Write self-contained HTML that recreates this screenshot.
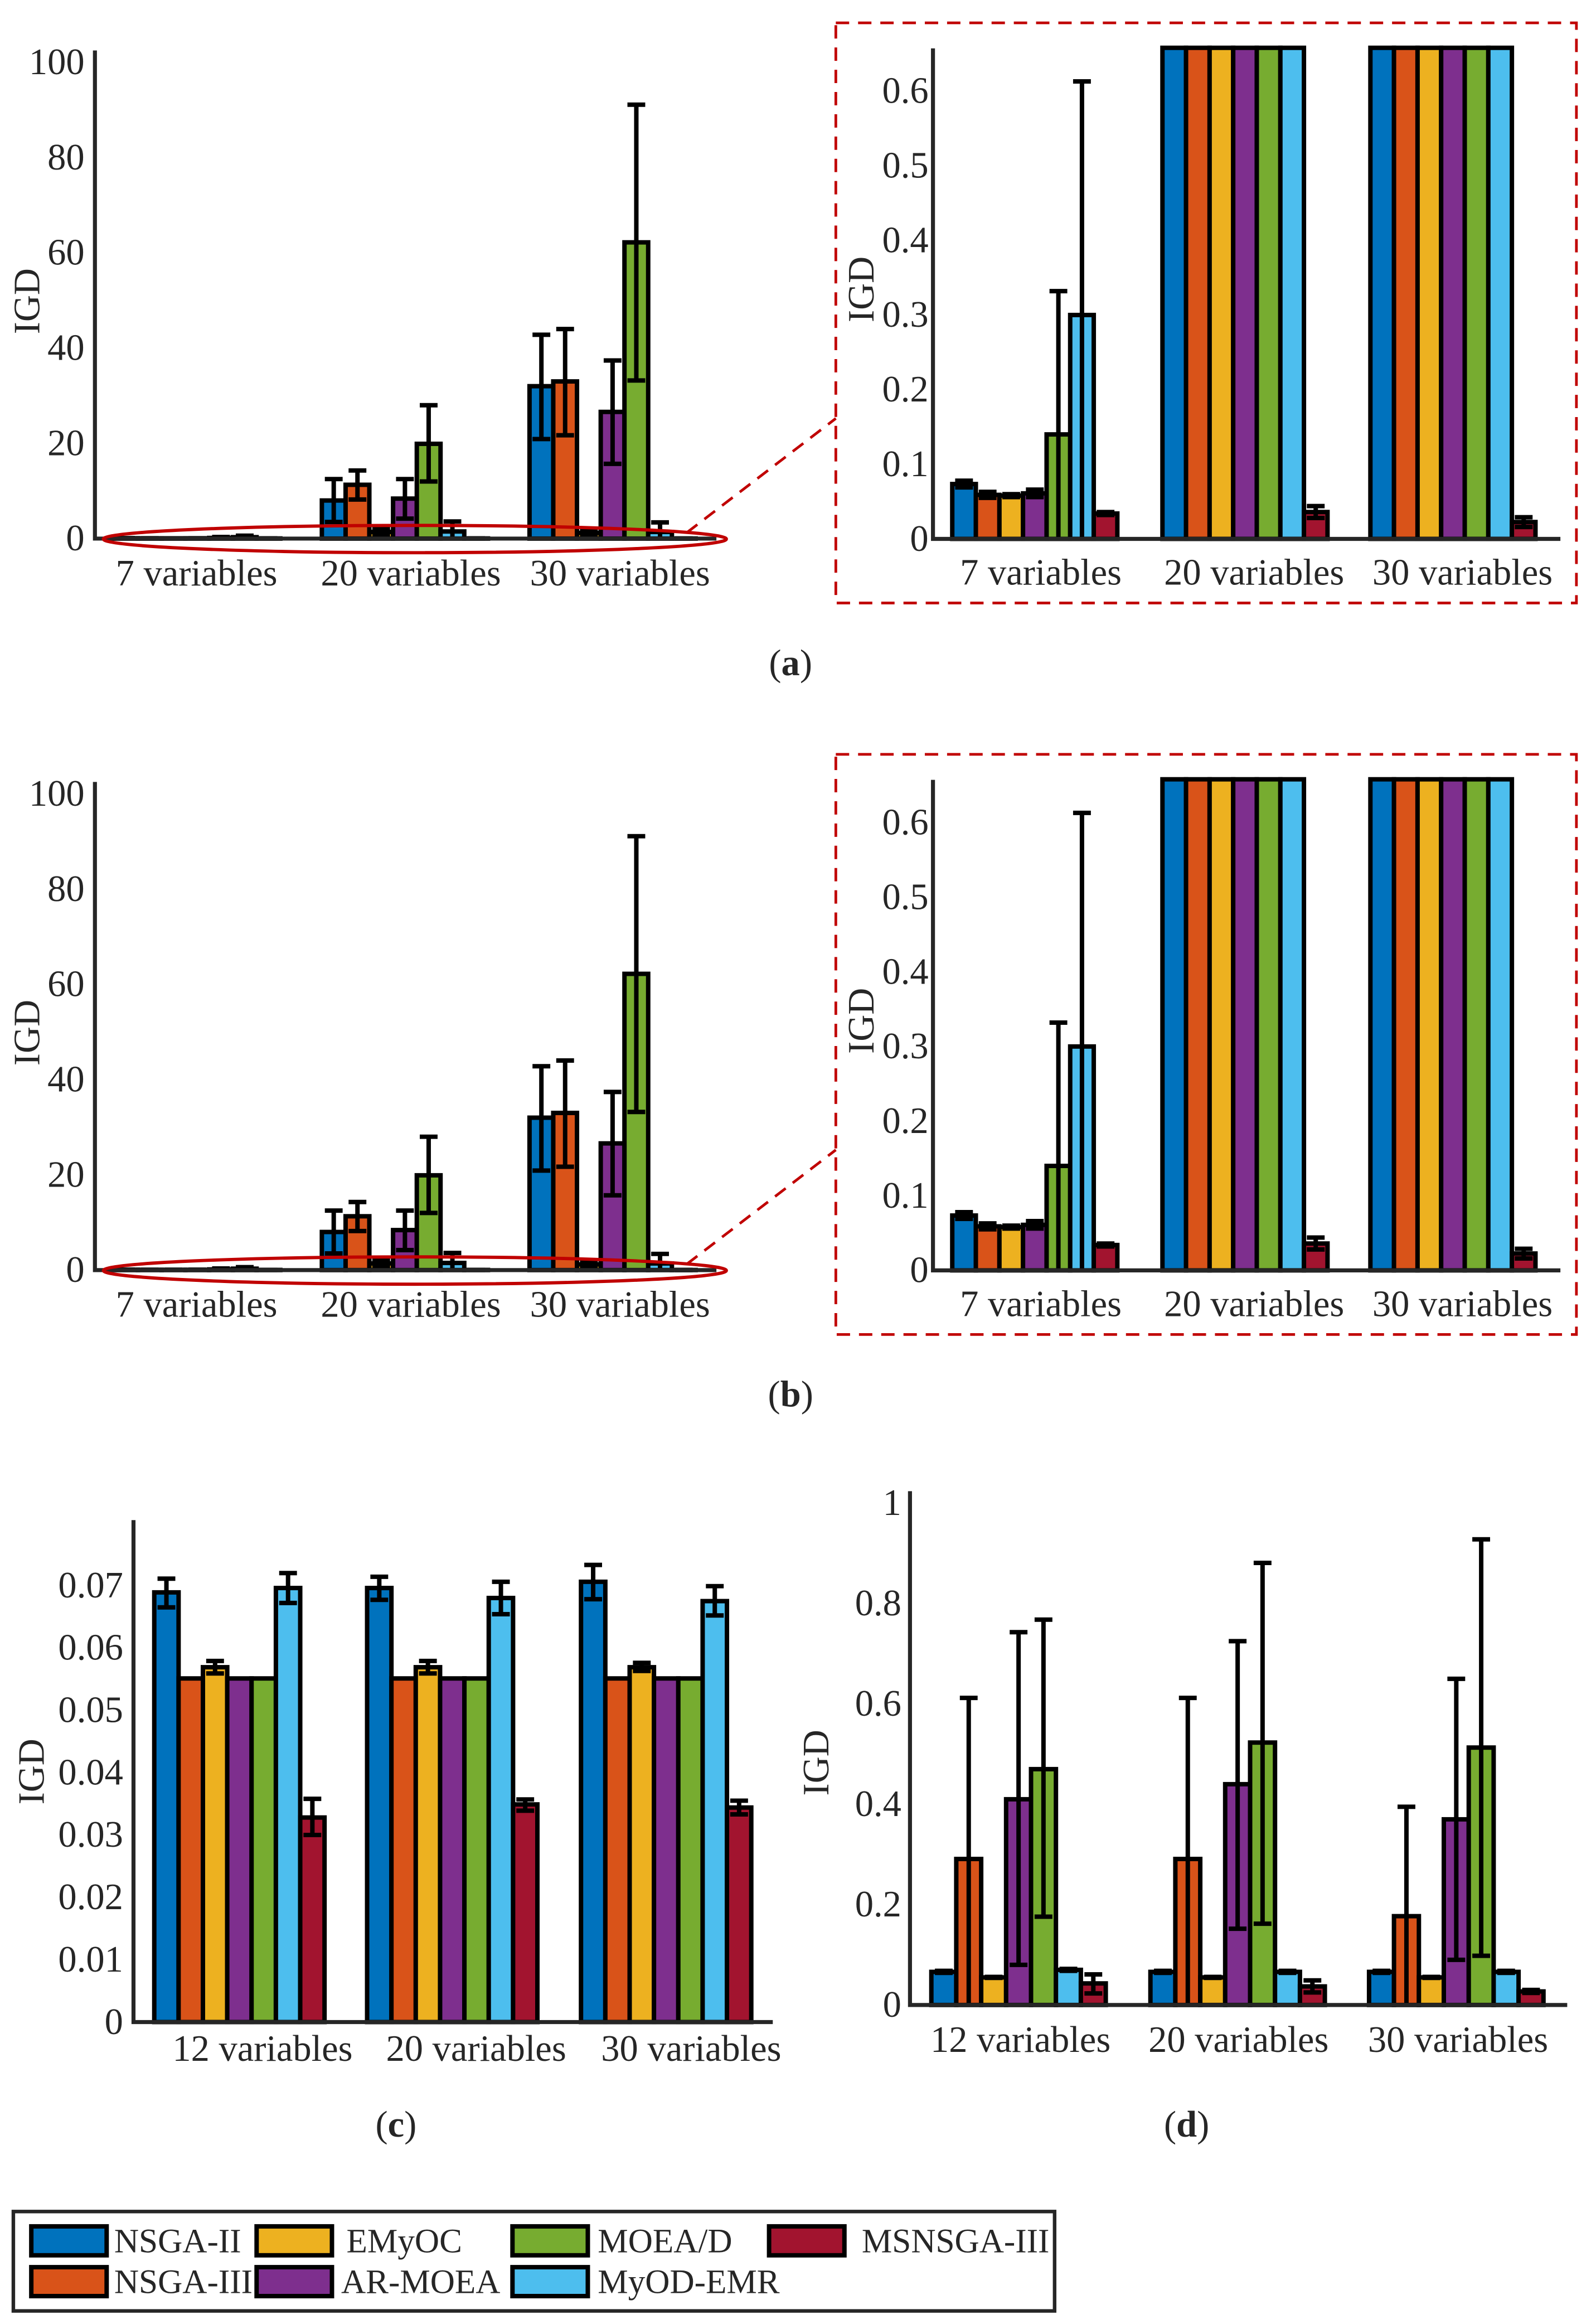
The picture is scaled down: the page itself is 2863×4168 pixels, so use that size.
<!DOCTYPE html>
<html><head><meta charset="utf-8"><style>
html,body{margin:0;padding:0;background:#fff;}
svg{display:block;}
text{font-family:"Liberation Serif",serif;fill:#262626;}
</style></head><body>
<svg id="fig" xmlns="http://www.w3.org/2000/svg" width="2863" height="4168" viewBox="0 0 1076 1566.3" preserveAspectRatio="none">
<rect x="0" y="0" width="1076" height="1566.3" fill="#fff"/>
</svg>
<script>
const algorithms = ['NSGA-II','NSGA-III','EMyOC','AR-MOEA','MOEA/D','MyOD-EMR','MSNSGA-III'];
const colors = ['#0072BD','#D95319','#EDB120','#7E2F8E','#77AC30','#4DBEEE','#A2142F'];
const groupsA = ['7 variables','20 variables','30 variables'];
const groupsC = ['12 variables','20 variables','30 variables'];

const meanA7 = [0.0735,0.059,0.058,0.061,0.14,0.30,0.034];
const loA7 = [0.069,0.055,0.056,0.056,0,0,0.032];
const hiA7 = [0.078,0.063,0.060,0.066,0.332,0.613,0.036];
const meanA20 = [8,11.3,1.4,8.4,19.9,1.5,0.036];
const loA20 = [3.5,8.2,0.8,4.2,12,0,0.028];
const hiA20 = [12.5,14.3,2.3,12.5,28,3.6,0.044];
const meanA30 = [32,33,1.2,26.6,62.2,1.4,0.0226];
const loA30 = [20.9,21.7,0.6,15.7,33.2,0,0.016];
const hiA30 = [42.8,44,2.0,37.4,91.1,3.4,0.029];

const meanC12 = [0.0689,0.0551,0.0569,0.0551,0.0551,0.0696,0.0328];
const loC12 = [0.0665,0.0551,0.0559,0.0551,0.0551,0.0672,0.0300];
const hiC12 = [0.0711,0.0551,0.0579,0.0551,0.0551,0.0720,0.0358];
const meanC20 = [0.0696,0.0551,0.0569,0.0551,0.0551,0.0680,0.0349];
const loC20 = [0.0677,0.0551,0.0559,0.0551,0.0551,0.0654,0.0339];
const hiC20 = [0.0714,0.0551,0.0579,0.0551,0.0551,0.0706,0.0357];
const meanC30 = [0.0706,0.0551,0.0569,0.0551,0.0551,0.0675,0.0344];
const loC30 = [0.0678,0.0551,0.0563,0.0551,0.0551,0.0652,0.0333];
const hiC30 = [0.0733,0.0551,0.0576,0.0551,0.0551,0.0699,0.0355];

const meanD12 = [0.066,0.291,0.055,0.41,0.47,0.070,0.043];
const loD12 = [0.064,0,0.054,0.080,0.176,0.068,0.023];
const hiD12 = [0.068,0.612,0.056,0.743,0.768,0.072,0.061];
const meanD20 = [0.066,0.291,0.055,0.44,0.523,0.066,0.037];
const loD20 = [0.064,0,0.054,0.152,0.162,0.064,0.025];
const hiD20 = [0.068,0.612,0.056,0.725,0.881,0.068,0.049];
const meanD30 = [0.066,0.177,0.055,0.37,0.513,0.066,0.027];
const loD30 = [0.064,0,0.054,0.09,0.098,0.064,0.024];
const hiD30 = [0.068,0.395,0.056,0.65,0.928,0.068,0.030];

const ticksA = [0,20,40,60,80,100];
const ticksAZoom = [0,0.1,0.2,0.3,0.4,0.5,0.6];
const ticksC = [0,0.01,0.02,0.03,0.04,0.05,0.06,0.07];
const ticksD = [0,0.2,0.4,0.6,0.8,1];

const NS = 'http://www.w3.org/2000/svg';
const svg = document.getElementById('fig');
function mk(tag, attrs, parent){
  const e = document.createElementNS(NS, tag);
  for (const k in attrs) e.setAttribute(k, attrs[k]);
  (parent||svg).appendChild(e);
  return e;
}

function panel(id, dy, cfg){
  const g = mk('g', {transform:'translate(0,'+dy+')'});
  
  
  const yScale = v => cfg.zero - Math.min(v, cfg.clip) * cfg.ppu;
  const bw = cfg.bw;
  for (let gi=0; gi<3; gi++){
    const m = cfg.means[gi];
    for (let i=0;i<7;i++){
      const x = cfg.starts[gi] + i*bw;
      const yt = yScale(m[i]);
      const r = mk('rect', {x:x, y:yt, width:bw, height:Math.max(cfg.zero-yt,0), fill:colors[i], stroke:'#000', 'stroke-width':3}, g);
      
      
    }
  }
  for (let gi=0; gi<3; gi++){
    const m = cfg.means[gi], lo = cfg.los[gi], hi = cfg.his[gi];
    for (let i=0;i<7;i++){
      if (hi[i]-lo[i] <= 0) continue;
      if (m[i] > cfg.clip) continue;
      const cx = cfg.starts[gi] + i*bw + bw/2;
      const y1 = yScale(hi[i]), y2 = yScale(Math.max(lo[i],0));
      const eg = mk('g', {stroke:'#000','stroke-width':3}, g);
      
      
      mk('line',{x1:cx,y1:y1,x2:cx,y2:y2},eg);
      mk('line',{x1:cx-6,y1:y1,x2:cx+6,y2:y1},eg);
      if (lo[i] > 0) mk('line',{x1:cx-6,y1:y2,x2:cx+6,y2:y2},eg);
    }
  }
  const ax = mk('path',{d:'M'+cfg.axisX+' '+cfg.top+' L'+cfg.axisX+' '+cfg.zero+' L'+cfg.xEnd+' '+cfg.zero, fill:'none', stroke:'#262626','stroke-width':2.7}, g);
  
  
  cfg.ticks.forEach(t=>{
    const tx = mk('text',{x:cfg.tickRight, y:yScale(t)+8, 'text-anchor':'end','font-size':25}, g);
    
    
    tx.textContent = String(t);
  });
  cfg.labels.forEach((l,gi)=>{
    const tx = mk('text',{x:cfg.labelX[gi], y:cfg.labelY, 'text-anchor':'middle','font-size':25}, g);
    
    
    tx.textContent = l;
  });
  const yl = mk('text',{x:0,y:0,transform:'translate('+(cfg.ylx+8)+','+cfg.yly+') rotate(-90)','text-anchor':'middle','font-size':25}, g);
  
  
  yl.textContent = 'IGD';
  return g;
}

const meansA = [meanA7, meanA20, meanA30], losA=[loA7,loA20,loA30], hisA=[hiA7,hiA20,hiA30];
const cfgAL = {means:meansA,los:losA,his:hisA, axisX:64, top:34, zero:363, ppu:3.21, clip:1e9, xEnd:483, starts:[77,217,357], bw:16, ticks:ticksA, tickRight:57, labels:groupsA, labelX:[132.5,277,418], labelY:394.5, ylx:18.5, yly:203};
const cfgAR = {means:meansA,los:losA,his:hisA, axisX:629, top:32.6, zero:363.2, ppu:503, clip:0.658, xEnd:1052, starts:[642,783.7,923.9], bw:15.9, ticks:ticksAZoom, tickRight:626, labels:groupsA, labelX:[701.7,845.5,986], labelY:394, ylx:581, yly:195};

function extras(id, dy){
  const g = mk('g',{transform:'translate(0,'+dy+')'});
  
  
  const el = mk('ellipse',{cx:279.7, cy:363.3, rx:210, ry:9.2, fill:'none', stroke:'#C00000','stroke-width':2.2}, g);
  
  
  const ln = mk('line',{x1:463,y1:359,x2:563.5,y2:282, stroke:'#C00000','stroke-width':1.8,'stroke-dasharray':'9 6'}, g);
  
  
  const bx = mk('rect',{x:563.5,y:15.4,width:499.3,height:391,fill:'none',stroke:'#C00000','stroke-width':1.8,'stroke-dasharray':'9 6'}, g);
  
  
}

panel('panel-a-full', 0, cfgAL);
panel('panel-a-zoom', 0, cfgAR);
extras('panel-a-zoom-marker', 0);
panel('panel-b-full', 493, cfgAL);
panel('panel-b-zoom', 493, cfgAR);
extras('panel-b-zoom-marker', 493);

panel('panel-c', 0, {means:[meanC12,meanC20,meanC30], los:[loC12,loC20,loC30], his:[hiC12,hiC20,hiC30], axisX:90, top:1024.5, zero:1362.8, ppu:4203, clip:1e9, xEnd:521, starts:[104,247.5,391.7], bw:16.4, ticks:ticksC, tickRight:83, labels:groupsC, labelX:[177,321,466], labelY:1389, ylx:21.5, yly:1194});
panel('panel-d', 0, {means:[meanD12,meanD20,meanD30], los:[loD12,loD20,loD30], his:[hiD12,hiD20,hiD30], axisX:613.5, top:1005, zero:1351.3, ppu:338.2, clip:1e9, xEnd:1056.6, starts:[627.9,775.6,923], bw:16.8, ticks:ticksD, tickRight:607.7, labels:groupsC, labelX:[688,835,983], labelY:1383, ylx:550.4, yly:1188});

const caps = [['(a)',533,455],['(b)',533,948],['(c)',267,1440],['(d)',800,1440]];
caps.forEach(c=>{
  const t = mk('text',{x:c[1],y:c[2],'text-anchor':'middle','font-size':25});
  
  
  t.innerHTML = '(<tspan font-weight="bold">'+c[0][1]+'</tspan>)';
});

const lg = mk('g',{});


const lb = mk('rect',{x:9,y:1490.5,width:702,height:67,fill:'#fff',stroke:'#262626','stroke-width':2.4}, lg);


const legSwX = [19.6,19.6,171.5,171.5,344,344,517];
const legSwY = [1499,1526.5,1499,1526.5,1499,1526.5,1499];
const legTxX = [77,77,233.6,230,403,403,581];
for (let i=0;i<7;i++){
  const e = mk('g',{},lg);
  
  
  mk('rect',{x:legSwX[i]+1.5,y:legSwY[i]+1.5,width:50.8,height:19.5,fill:colors[i],stroke:'#000','stroke-width':3},e);
  const t = mk('text',{x:legTxX[i],y:legSwY[i]+19,'font-size':23},e);
  t.textContent = algorithms[i];
}
</script>
</body></html>
